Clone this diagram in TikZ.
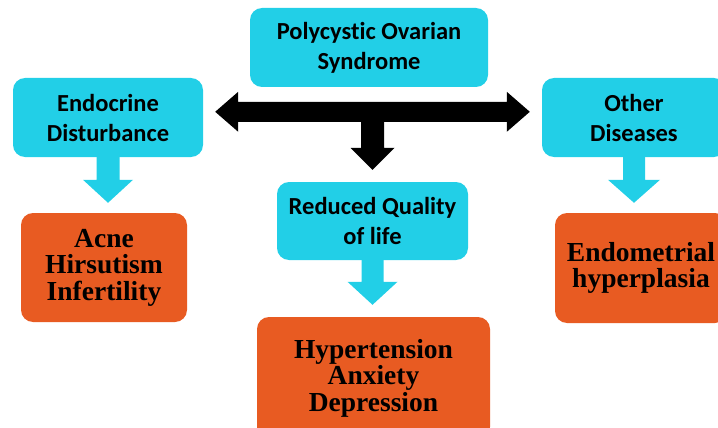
\documentclass[tikz,border=0pt]{standalone}
\usepackage{fontspec}
\usetikzlibrary{calc}

\newfontfamily\boxsans[Ligatures=CommonOff]{Carlito}
\newfontfamily\boxserif[Ligatures=CommonOff]{Liberation Serif}

\definecolor{sky}{HTML}{22CFE7}
\definecolor{rust}{HTML}{E85B22}

\tikzset{
  topic/.style={
    rounded corners=12pt,
    fill=sky,
    align=center,
    inner sep=0pt,
    font=\boxsans\bfseries\fontsize{24.5}{30}\selectfont,
  },
  effect/.style={
    rounded corners=12pt,
    fill=rust,
    align=center,
    inner sep=0pt,
    font=\boxserif\bfseries\fontsize{27.5}{26.5}\selectfont,
  },
  % fat downward arrow: shaft half width, head half width, head length
  drop/.style n args={3}{
    to path={
      ($ (\tikztostart)+(-#1,0) $) -- ($ (\tikztotarget)+(-#1,-#3) $)
      -- ($ (\tikztotarget)+(-#2,-#3) $) -- (\tikztotarget)
      -- ($ (\tikztotarget)+(#2,-#3) $) -- ($ (\tikztotarget)+(#1,-#3) $)
      -- ($ (\tikztostart)+(#1,0) $) -- cycle
    },
  },
  % fat double headed bar, tip to tip
  span/.style={
    to path={
      (\tikztostart) -- ++(23,-20) -- ++(0,10)
      -- ($ (\tikztotarget)+(-23,-10) $) -- ++(0,-10)
      -- (\tikztotarget) -- ++(-23,20) -- ++(0,-10)
      -- ($ (\tikztostart)+(23,10) $) -- ++(0,10) -- cycle
    },
  },
}

\begin{document}
\begin{tikzpicture}[x=1pt, y=-1pt]

  \useasboundingbox (0,0) rectangle (718,428);
  \clip (0,0) rectangle (718,428);

  \node[topic, minimum width=238pt, minimum height=79pt]
    (pcos) at (369,47.5) {Polycystic Ovarian\\Syndrome};
  \node[topic, minimum width=190pt, minimum height=79pt]
    (endo) at (108,117.5) {Endocrine\\Disturbance};
  \node[topic, minimum width=184pt, minimum height=79pt]
    (other) at (634,117.5) {Other\\Diseases};
  \node[topic, minimum width=191pt, minimum height=78pt]
    (reduced) at (372.5,221) {Reduced Quality\\of life};

  \node[effect, minimum width=166pt, minimum height=109pt]
    (acne) at (104,267.5) {Acne\\Hirsutism\\Infertility};
  \node[effect, minimum width=172pt, minimum height=110pt]
    (endom) at (641,268) {Endometrial\\hyperplasia};
  \node[effect, minimum width=233pt, minimum height=122pt]
    (hyper) at (373.5,378) {Hypertension\\Anxiety\\Depression};

  \path (reduced.north) ++(0,-70) coordinate (hub);
  \fill ([xshift=12pt]hub -| endo.east) to[span] ([xshift=-12pt]hub -| other.west);
  \fill (hub) to[drop={11.5}{22}{22}] ([yshift=12pt]reduced.north);

  \fill[sky] (endo.south) to[drop={11.5}{25}{23}] ([yshift=10pt]endo.south |- acne.north);
  \fill[sky] (other.south) to[drop={11}{26}{23}] ([yshift=10pt]other.south |- endom.north);
  \fill[sky] (reduced.south) to[drop={11}{25}{23}] ([yshift=12pt]reduced.south |- hyper.north);

\end{tikzpicture}
\end{document}
